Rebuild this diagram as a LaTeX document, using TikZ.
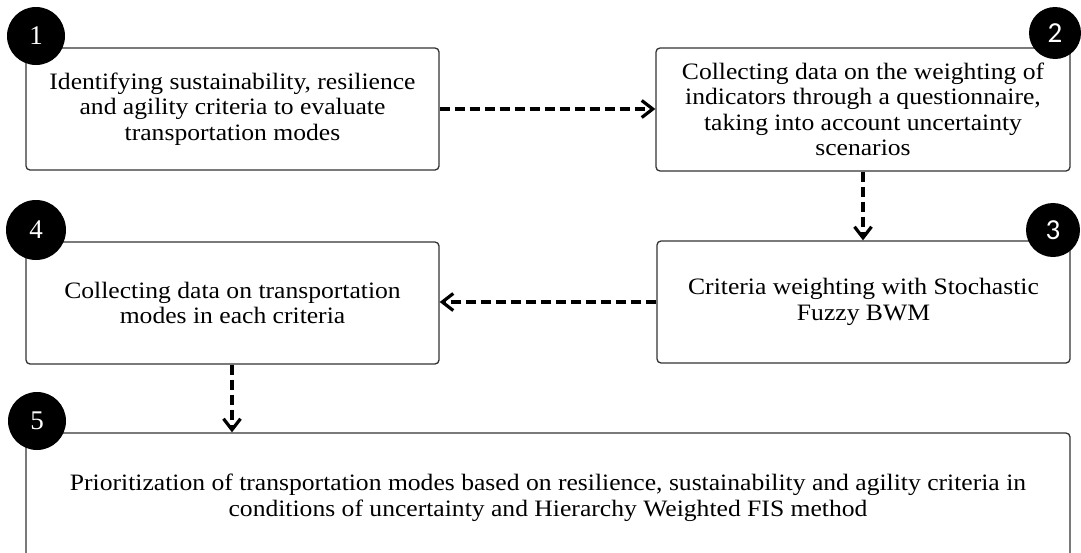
\documentclass[tikz,border=0pt]{standalone}
\usepackage{fontspec}
\setmainfont{Liberation Serif}[FakeStretch=1.09]
\newfontfamily\numserif{Liberation Serif}
\newfontfamily\numsans{Carlito}
\usetikzlibrary{arrows.meta}
\begin{document}
\begin{tikzpicture}[x=1pt,y=-1pt,
  box/.style={draw=black!80, line width=1.3pt, rounded corners=4pt, align=center,
    inner sep=0pt, font=\fontsize{23.5}{25.5}\selectfont},
  badge/.style={circle, fill=black, text=white, inner sep=0pt,
    font=\numserif\fontsize{27}{27}\selectfont},
  flow/.style={line width=3.2pt, dash pattern=on 10pt off 5pt,
    -{Straight Barb[length=11pt,width=17pt]}}]
\useasboundingbox (0,0) rectangle (1081,552);
\clip (0,0) rectangle (1081,552);
\fill[white] (0,0) rectangle (1081,552);

\node[box, minimum width=413pt, minimum height=122pt] (b1) at (232.5,109)
  {Identifying sustainability, resilience\\and agility criteria to evaluate\\transportation modes};
\node[box, minimum width=414pt, minimum height=123pt] (b2) at (863,109.5)
  {Collecting data on the weighting of\\indicators through a questionnaire,\\taking into account uncertainty\\scenarios};
\node[box, minimum width=413pt, minimum height=122pt] (b3) at (863.5,302)
  {Criteria weighting with Stochastic\\Fuzzy BWM};
\node[box, minimum width=413pt, minimum height=122pt] (b4) at (232.5,303)
  {Collecting data on transportation\\modes in each criteria};
\node[box, minimum width=1044pt, minimum height=130pt] (b5) at (548,498)
  {Prioritization of transportation modes based on resilience, sustainability and agility criteria in\\conditions of uncertainty and Hierarchy Weighted FIS method};

\node[badge, minimum size=58pt] (n1) at (36,36) {1};
\node[badge, minimum size=52pt, font=\numsans\fontsize{29}{29}\selectfont] (n2) at (1055,33) {2};
\node[badge, minimum size=54pt, font=\numsans\fontsize{29}{29}\selectfont] (n3) at (1053,230) {3};
\node[badge, minimum size=60pt] (n4) at (36,230) {4};
\node[badge, minimum size=58pt] (n5) at (37,421) {5};

\draw[flow] (b1.east) -- (b1.east -| b2.west);
\draw[flow] (b2.south) -- (b2.south |- b3.north);
\draw[flow] (b3.west) -- (b3.west -| b4.east);
\draw[flow] ([xshift=-0.5pt]b4.south) -- ([xshift=-0.5pt]b4.south |- b5.north);
\end{tikzpicture}
\end{document}
